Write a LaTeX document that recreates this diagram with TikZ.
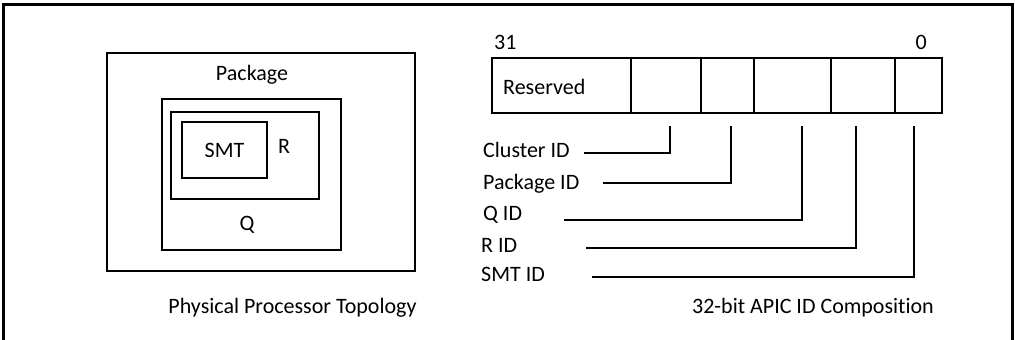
\documentclass[tikz,border=0pt]{standalone}
\usepackage{fontspec}
\setmainfont{Carlito}[Ligatures=NoCommon]
\usetikzlibrary{positioning}

\begin{document}
\begin{tikzpicture}[x=1pt,y=-1pt,
  frame/.style={line width=3pt},
  box/.style={draw,line width=2.8pt,inner sep=0pt,outer sep=0pt},
  cell/.style={draw,line width=1.2pt,minimum height=55pt,inner sep=0pt,outer sep=0pt},
  leader/.style={line width=2.6pt},
  txt/.style={font=\fontsize{22}{26}\selectfont,inner sep=0pt}]
\useasboundingbox (0,0) rectangle (1015,340);
\draw[frame] (3,340) -- (3,4) -- (1012,4) -- (1012,340);
% physical processor topology
\node[box,minimum width=308pt,minimum height=218pt] (package) at (261,162) {};
\node[box,minimum width=179pt,minimum height=151pt] (qbox) at (251.5,174.5) {};
\node[box,minimum width=148pt,minimum height=87pt] (rbox) at (245,155.5) {};
\node[box,minimum width=85pt,minimum height=56pt,txt] (smtbox) at (224.5,150) {SMT};
\node[txt,anchor=base] (packagelbl) at (252,80) {Package};
\node[txt,anchor=base] (rlbl) at (284,153) {R};
\node[txt,anchor=base] (qlbl) at (247,230) {Q};
\node[txt,anchor=base] (topocap) at (292.5,313) {Physical Processor Topology};
% 32-bit APIC ID
\node[cell,minimum width=139pt,anchor=north west] (res) at (492,58) {};
\node[cell,minimum width=70pt,right=0pt of res] (clu) {};
\node[cell,minimum width=53pt,right=0pt of clu] (pkg) {};
\node[cell,minimum width=77pt,right=0pt of pkg] (qid) {};
\node[cell,minimum width=64pt,right=0pt of qid] (rid) {};
\node[cell,minimum width=47pt,right=0pt of rid] (smt) {};
\draw[line width=2.8pt] (res.north west) rectangle (smt.south east);
\node[txt,anchor=base west] (reslbl) at (503,94) {Reserved};
\node[txt,anchor=base west] (hibit) at (494,49) {31};
\node[txt,anchor=base east] (lobit) at (927,49) {0};
\node[txt,anchor=base west] (clulbl) at (483,157) {Cluster ID};
\node[txt,anchor=base west] (pkglbl) at (483,189) {Package ID};
\node[txt,anchor=base west] (qidlbl) at (483,220) {Q ID};
\node[txt,anchor=base west] (ridlbl) at (481,252) {R ID};
\node[txt,anchor=base west] (smtlbl) at (481,281) {SMT ID};
\coordinate (clutop) at (670,126);
\coordinate (pkgtop) at (731,126);
\coordinate (qidtop) at (802,126);
\coordinate (ridtop) at (856,126);
\coordinate (smttop) at (914,126);
\coordinate (clustart) at (584,153);
\coordinate (pkgstart) at (603,183);
\coordinate (qidstart) at (564,220);
\coordinate (ridstart) at (586,248);
\coordinate (smtstart) at (592,277);
\draw[leader] (clustart) -| (clutop);
\draw[leader] (pkgstart) -| (pkgtop);
\draw[leader] (qidstart) -| (qidtop);
\draw[leader] (ridstart) -| (ridtop);
\draw[leader] (smtstart) -| (smttop);
\node[txt,anchor=base] (apiccap) at (813,313) {32-bit APIC ID Composition};
\end{tikzpicture}
\end{document}
